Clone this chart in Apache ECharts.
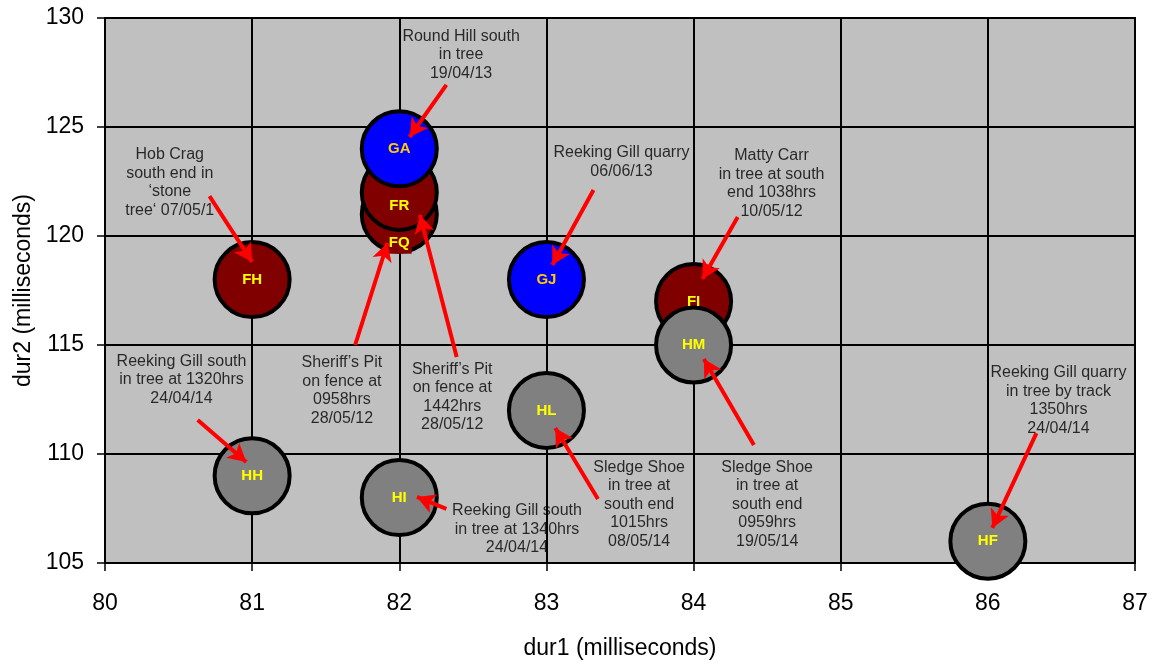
<!DOCTYPE html>
<html>
<head>
<meta charset="utf-8">
<script src="https://cdn.jsdelivr.net/npm/echarts@6/dist/echarts.min.js"></script>
<style>
  html, body { margin: 0; padding: 0; background: #fff; }
  #chart { width: 1157px; height: 664px; }
</style>
</head>
<body>
<div id="chart"></div>
<script>
// bird codes, grouped by year of recording (draw order = stacking order)
let codes2012 = ['FH', 'FQ', 'FR', 'FI'];
let dur1_2012 = [81, 82, 82, 84];
let dur2_2012 = [118, 121, 122, 117];

let codes2013 = ['GA', 'GJ'];
let dur1_2013 = [82, 83];
let dur2_2013 = [124, 118];

let codes2014 = ['HM', 'HL', 'HH', 'HI', 'HF'];
let dur1_2014 = [84, 83, 81, 82, 86];
let dur2_2014 = [115, 112, 109, 108, 106];

let xTicks = [80, 81, 82, 83, 84, 85, 86, 87];
let yTicks = [105, 110, 115, 120, 125, 130];

// notes text next to the bubbles
let noteTexts = [
    'Hob Crag\nsouth end in\n‘stone\ntree‘ 07/05/1',
    'Round Hill south\nin tree\n19/04/13',
    'Reeking Gill quarry\n06/06/13',
    'Matty Carr\nin tree at south\nend 1038hrs\n10/05/12',
    'Reeking Gill south\nin tree at 1320hrs\n24/04/14',
    'Sheriff’s Pit\non fence at\n0958hrs\n28/05/12',
    'Sheriff’s Pit\non fence at\n1442hrs\n28/05/12',
    'Reeking Gill south\nin tree at 1340hrs\n24/04/14',
    'Sledge Shoe\nin tree at\nsouth end\n1015hrs\n08/05/14',
    'Sledge Shoe\nin tree at\nsouth end\n0959hrs\n19/05/14',
    'Reeking Gill quarry\nin tree by track\n1350hrs\n24/04/14'
];

// layout of notes and arrows (axis units)
let notePos = [
    [80.44, 122.45], [82.42, 128.3], [83.51, 123.4], [84.53, 122.4],
    [80.52, 113.4], [81.61, 112.9], [82.36, 112.6], [82.80, 106.55],
    [83.63, 107.7], [84.50, 107.7], [86.48, 112.45]
];
let arrows = [
    [[80.71, 121.83], [81.0, 118.81]],
    [[82.32, 126.93], [82.07, 124.54]],
    [[83.32, 122.11], [83.04, 118.67]],
    [[84.30, 120.87], [84.06, 118.03]],
    [[81.70, 115.0], [81.92, 119.68]],
    [[82.39, 114.45], [82.14, 120.96]],
    [[80.63, 111.56], [80.96, 109.63]],
    [[82.32, 107.48], [82.12, 108.03]],
    [[83.35, 107.94], [83.06, 111.19]],
    [[84.41, 110.41], [84.07, 114.36]],
    [[86.33, 110.96], [86.03, 106.61]]
];

function zip(codes, xs, ys) {
    let out = [];
    for (let i = 0; i < codes.length; i++) {
        out.push({ name: codes[i], value: [xs[i], ys[i]] });
    }
    return out;
}

// label nudges where the original labels sit off-centre
let labelNudge = { FR: [0, 13], FQ: [0, 29] };

function bubbleSeries(name, data, fill, textColor) {
    return {
        name: name,
        type: 'scatter',
        symbolSize: 75,
        clip: false,
        data: data.map(function (d) {
            let item = { name: d.name, value: d.value };
            if (labelNudge[d.name]) {
                item.label = { offset: labelNudge[d.name] };
                if (d.name === 'FQ') {
                    item.label.backgroundColor = fill;
                    item.label.padding = [3, 2, 3, 2];
                }
            }
            return item;
        }),
        itemStyle: { color: fill, borderColor: '#000', borderWidth: 4, opacity: 1 },
        label: {
            show: true,
            position: 'inside',
            formatter: '{b}',
            color: textColor,
            textBorderWidth: 0,
            fontFamily: 'Liberation Sans, Arial',
            fontWeight: 'bold',
            fontSize: 15
        },
        emphasis: { disabled: true }
    };
}

let noteData = noteTexts.map(function (t, i) {
    return { name: t, value: notePos[i] };
});

let arrowData = arrows.map(function (a) {
    return [{ coord: a[0] }, { coord: a[1] }];
});

let axisFont = { fontFamily: 'Liberation Sans, Arial', fontSize: 23, color: '#000' };

let option = {
    animation: false,
    grid: {
        left: 105, right: 22, top: 18, bottom: 101,
        outerBoundsMode: 'none',
        show: true,
        backgroundColor: '#C0C0C0',
        borderColor: '#000',
        borderWidth: 2
    },
    xAxis: {
        type: 'value',
        min: xTicks[0],
        max: xTicks[xTicks.length - 1],
        interval: 1,
        name: 'dur1 (milliseconds)',
        nameLocation: 'middle',
        nameGap: 74,
        nameTextStyle: axisFont,
        axisLine: { lineStyle: { color: '#000', width: 2 } },
        axisTick: { show: true, length: 8, lineStyle: { color: '#000', width: 1.5 } },
        axisLabel: Object.assign({ margin: 29 }, axisFont),
        splitLine: { show: true, lineStyle: { color: '#000', width: 2 } }
    },
    yAxis: {
        type: 'value',
        min: yTicks[0],
        max: yTicks[yTicks.length - 1],
        interval: 5,
        name: 'dur2 (milliseconds)',
        nameLocation: 'middle',
        nameGap: 68,
        nameTextStyle: axisFont,
        axisLine: { show: true, lineStyle: { color: '#000', width: 2 } },
        axisTick: { show: true, length: 8, lineStyle: { color: '#000', width: 1.5 } },
        axisLabel: Object.assign({ margin: 21 }, axisFont),
        splitLine: { show: true, lineStyle: { color: '#000', width: 2 } }
    },
    series: [
        bubbleSeries('2012', zip(codes2012, dur1_2012, dur2_2012), '#800000', '#FFFF00'),
        bubbleSeries('2013', zip(codes2013, dur1_2013, dur2_2013), '#0000FF', '#FFCC00'),
        bubbleSeries('2014', zip(codes2014, dur1_2014, dur2_2014), '#808080', '#FFFF00'),
        {
            name: 'notes',
            type: 'scatter',
            symbolSize: 1,
            itemStyle: { color: 'rgba(0,0,0,0)' },
            silent: true,
            z: 5,
            data: noteData,
            label: {
                show: true,
                position: 'inside',
                formatter: '{b}',
                color: '#000',
                textBorderWidth: 0,
                fontFamily: 'Liberation Sans, Arial',
                fontSize: 16,
                lineHeight: 18.5,
                align: 'center'
            },
            markLine: {
                silent: true,
                symbol: ['none', 'arrow'],
                symbolSize: [15, 18],
                label: { show: false },
                lineStyle: { color: '#FF0000', width: 4, type: 'solid' },
                data: arrowData,
                animation: false
            }
        }
    ]
};

let chart = echarts.init(document.getElementById('chart'));
chart.setOption(option);
</script>
</body>
</html>
